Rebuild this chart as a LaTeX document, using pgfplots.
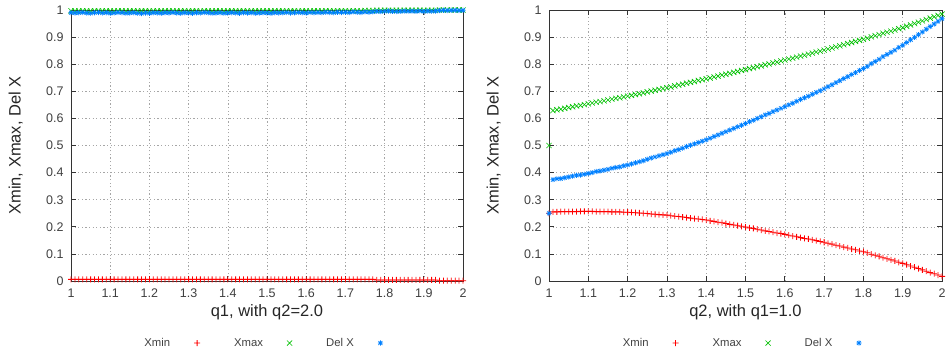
\documentclass[border=0pt]{standalone}
\usepackage{pgfplots}
\usepackage{pgfplotstable}
\pgfplotsset{compat=1.18}
\usepackage{fontspec}
\setmainfont{Liberation Sans}
\definecolor{gred}{RGB}{255,0,0}
\definecolor{ggreen}{RGB}{0,192,0}
\definecolor{gblue}{RGB}{0,128,255}
\definecolor{gtext}{RGB}{64,64,64}

\pgfdeclareplotmark{gplus}{%
  \pgfsetfillcolor{gred}%
  \pgfpathrectangle{\pgfqpoint{-\pgfplotmarksize}{-0.4pt}}{\pgfqpoint{2\pgfplotmarksize}{0.8pt}}%
  \pgfpathrectangle{\pgfqpoint{-0.4pt}{-\pgfplotmarksize}}{\pgfqpoint{0.8pt}{2\pgfplotmarksize}}%
  \pgfusepathqfill}
\pgfdeclareplotmark{gcross}{%
  \pgfsetstrokecolor{ggreen}%
  \pgfpathmoveto{\pgfqpoint{-\pgfplotmarksize}{-\pgfplotmarksize}}\pgfpathlineto{\pgfqpoint{\pgfplotmarksize}{\pgfplotmarksize}}%
  \pgfpathmoveto{\pgfqpoint{-\pgfplotmarksize}{\pgfplotmarksize}}\pgfpathlineto{\pgfqpoint{\pgfplotmarksize}{-\pgfplotmarksize}}%
  \pgfusepathqstroke}
\pgfdeclareplotmark{gstar}{%
  \pgfsetstrokecolor{gblue}%
  \pgfpathmoveto{\pgfqpoint{-\pgfplotmarksize}{0pt}}\pgfpathlineto{\pgfqpoint{\pgfplotmarksize}{0pt}}%
  \pgfpathmoveto{\pgfqpoint{0pt}{-\pgfplotmarksize}}\pgfpathlineto{\pgfqpoint{0pt}{\pgfplotmarksize}}%
  \pgfpathmoveto{\pgfqpoint{-0.75\pgfplotmarksize}{-0.75\pgfplotmarksize}}\pgfpathlineto{\pgfqpoint{0.75\pgfplotmarksize}{0.75\pgfplotmarksize}}%
  \pgfpathmoveto{\pgfqpoint{-0.75\pgfplotmarksize}{0.75\pgfplotmarksize}}\pgfpathlineto{\pgfqpoint{0.75\pgfplotmarksize}{-0.75\pgfplotmarksize}}%
  \pgfusepathqstroke}

\pgfplotstableread{
x xmin xmax delx
1.00 0.006 0.997 0.990
1.01 0.006 0.997 0.989
1.02 0.006 0.997 0.990
1.03 0.006 0.997 0.991
1.04 0.006 0.997 0.989
1.05 0.006 0.997 0.988
1.06 0.006 0.997 0.990
1.07 0.006 0.997 0.991
1.08 0.006 0.997 0.989
1.09 0.006 0.997 0.990
1.10 0.006 0.997 0.988
1.11 0.006 0.997 0.989
1.12 0.006 0.997 0.991
1.13 0.006 0.997 0.990
1.14 0.006 0.997 0.988
1.15 0.006 0.997 0.989
1.16 0.006 0.997 0.990
1.17 0.006 0.997 0.988
1.18 0.006 0.997 0.987
1.19 0.006 0.997 0.989
1.20 0.006 0.997 0.988
1.21 0.006 0.997 0.990
1.22 0.006 0.997 0.989
1.23 0.006 0.997 0.988
1.24 0.006 0.997 0.990
1.25 0.006 0.997 0.989
1.26 0.006 0.997 0.991
1.27 0.006 0.997 0.989
1.28 0.006 0.997 0.988
1.29 0.006 0.997 0.990
1.30 0.006 0.997 0.989
1.31 0.006 0.997 0.988
1.32 0.006 0.997 0.990
1.33 0.006 0.997 0.989
1.34 0.006 0.997 0.991
1.35 0.006 0.997 0.990
1.36 0.006 0.997 0.988
1.37 0.006 0.997 0.989
1.38 0.006 0.997 0.990
1.39 0.006 0.997 0.988
1.40 0.006 0.997 0.989
1.41 0.006 0.997 0.990
1.42 0.006 0.997 0.989
1.43 0.006 0.997 0.988
1.44 0.006 0.997 0.990
1.45 0.006 0.997 0.989
1.46 0.006 0.997 0.990
1.47 0.006 0.997 0.988
1.48 0.006 0.997 0.989
1.49 0.006 0.997 0.990
1.50 0.006 0.997 0.989
1.51 0.006 0.997 0.988
1.52 0.006 0.997 0.990
1.53 0.006 0.997 0.989
1.54 0.006 0.997 0.990
1.55 0.006 0.997 0.991
1.56 0.006 0.997 0.989
1.57 0.006 0.997 0.990
1.58 0.006 0.997 0.991
1.59 0.006 0.997 0.990
1.60 0.006 0.997 0.989
1.61 0.006 0.997 0.991
1.62 0.006 0.997 0.990
1.63 0.006 0.997 0.991
1.64 0.006 0.997 0.990
1.65 0.006 0.997 0.992
1.66 0.006 0.997 0.991
1.67 0.006 0.997 0.990
1.68 0.006 0.997 0.992
1.69 0.006 0.997 0.991
1.70 0.006 0.997 0.992
1.71 0.006 0.997 0.991
1.72 0.006 0.997 0.993
1.73 0.006 0.997 0.992
1.74 0.006 0.997 0.991
1.75 0.006 0.998 0.993
1.76 0.006 0.998 0.992
1.77 0.006 0.998 0.993
1.78 0.004 0.999 0.995
1.79 0.004 0.999 0.994
1.80 0.004 0.999 0.995
1.81 0.004 0.999 0.996
1.82 0.004 0.999 0.995
1.83 0.004 0.999 0.994
1.84 0.004 0.999 0.995
1.85 0.004 0.999 0.996
1.86 0.004 0.999 0.995
1.87 0.004 0.999 0.996
1.88 0.004 0.999 0.995
1.89 0.004 0.999 0.996
1.90 0.004 0.999 0.995
1.91 0.004 0.999 0.996
1.92 0.004 0.999 0.995
1.93 0.004 0.999 0.996
1.94 0.001 1.000 0.998
1.95 0.001 1.000 0.999
1.96 0.001 1.000 0.998
1.97 0.001 1.000 0.999
1.98 0.001 1.000 0.999
1.99 0.001 1.000 0.998
2.00 0.001 1.000 0.999
}\leftdata

\pgfplotstableread{
x xmin xmax delx
1.00 0.250 0.500 0.250
1.01 0.255 0.629 0.374
1.02 0.255 0.632 0.377
1.03 0.256 0.634 0.378
1.04 0.256 0.637 0.381
1.05 0.256 0.640 0.384
1.06 0.256 0.643 0.387
1.07 0.256 0.646 0.390
1.08 0.257 0.648 0.391
1.09 0.257 0.651 0.394
1.10 0.257 0.654 0.397
1.11 0.257 0.657 0.400
1.12 0.256 0.660 0.404
1.13 0.256 0.662 0.406
1.14 0.256 0.665 0.409
1.15 0.256 0.668 0.412
1.16 0.255 0.671 0.416
1.17 0.255 0.674 0.419
1.18 0.255 0.676 0.421
1.19 0.254 0.679 0.425
1.20 0.254 0.682 0.428
1.21 0.253 0.685 0.432
1.22 0.252 0.688 0.436
1.23 0.251 0.691 0.440
1.24 0.250 0.694 0.444
1.25 0.249 0.698 0.449
1.26 0.247 0.701 0.454
1.27 0.246 0.704 0.458
1.28 0.245 0.707 0.462
1.29 0.244 0.710 0.466
1.30 0.243 0.713 0.470
1.31 0.241 0.716 0.475
1.32 0.239 0.720 0.481
1.33 0.238 0.723 0.485
1.34 0.236 0.726 0.490
1.35 0.234 0.730 0.496
1.36 0.232 0.733 0.501
1.37 0.230 0.736 0.506
1.38 0.229 0.740 0.511
1.39 0.227 0.743 0.516
1.40 0.225 0.746 0.521
1.41 0.222 0.749 0.527
1.42 0.220 0.753 0.533
1.43 0.217 0.756 0.539
1.44 0.215 0.760 0.545
1.45 0.212 0.763 0.551
1.46 0.209 0.766 0.557
1.47 0.207 0.770 0.563
1.48 0.204 0.773 0.569
1.49 0.202 0.777 0.575
1.50 0.199 0.780 0.581
1.51 0.196 0.784 0.588
1.52 0.194 0.787 0.593
1.53 0.191 0.791 0.600
1.54 0.188 0.794 0.606
1.55 0.185 0.798 0.613
1.56 0.183 0.801 0.618
1.57 0.180 0.805 0.625
1.58 0.177 0.808 0.631
1.59 0.175 0.812 0.637
1.60 0.172 0.815 0.643
1.61 0.169 0.819 0.650
1.62 0.166 0.822 0.656
1.63 0.163 0.826 0.663
1.64 0.160 0.830 0.670
1.65 0.157 0.833 0.676
1.66 0.155 0.837 0.682
1.67 0.152 0.841 0.689
1.68 0.149 0.845 0.696
1.69 0.146 0.848 0.702
1.70 0.143 0.852 0.709
1.71 0.139 0.856 0.717
1.72 0.136 0.860 0.724
1.73 0.132 0.864 0.732
1.74 0.129 0.868 0.739
1.75 0.125 0.872 0.747
1.76 0.122 0.876 0.754
1.77 0.118 0.880 0.762
1.78 0.115 0.884 0.769
1.79 0.111 0.888 0.777
1.80 0.108 0.892 0.784
1.81 0.104 0.896 0.792
1.82 0.099 0.901 0.802
1.83 0.095 0.905 0.810
1.84 0.091 0.909 0.818
1.85 0.086 0.914 0.828
1.86 0.082 0.918 0.836
1.87 0.078 0.922 0.844
1.88 0.074 0.926 0.852
1.89 0.069 0.931 0.862
1.90 0.065 0.935 0.870
1.91 0.060 0.940 0.880
1.92 0.055 0.945 0.890
1.93 0.051 0.950 0.899
1.94 0.046 0.955 0.909
1.95 0.041 0.960 0.919
1.96 0.036 0.965 0.929
1.97 0.031 0.970 0.939
1.98 0.027 0.975 0.948
1.99 0.022 0.980 0.958
2.00 0.017 0.985 0.968
}\rightdata

\pgfplotsset{
  gnu/.style={
    scale only axis,
    width=392pt, height=271pt,
    anchor=south west,
    xmin=1, xmax=2, ymin=0, ymax=1,
    xtick={1,1.1,1.2,1.3,1.4,1.5,1.6,1.7,1.8,1.9,2},
    ytick={0,0.1,0.2,0.3,0.4,0.5,0.6,0.7,0.8,0.9,1},
    /pgf/number format/assume math mode=true,
    tick align=inside,
    major tick length=5pt,
    axis line style={draw=black!80, line width=0.8pt},
    every tick/.style={draw=black!80, line width=0.8pt},
    grid=major,
    major grid style={draw=black!35, line width=0.6pt, dash pattern=on 1.2pt off 2.4pt},
    tick label style={font=\fontsize{12.5}{14}\selectfont, text=gtext},
    yticklabel style={xshift=-4pt},
    xticklabel style={yshift=-4pt},
    label style={font=\fontsize{16.5}{19}\selectfont, text=black!85},
    y label style={at={(axis description cs:-0.141,0.5)}, anchor=center},
    x label style={at={(axis description cs:0.5,-0.114)}, anchor=center},
    ylabel={Xmin, Xmax, Del X},
    clip=false,
    legend plot pos=right,
    legend columns=3,
    legend style={draw=none, fill=none, at={(axis description cs:0.489,-0.229)}, anchor=center,
      font=\fontsize{11.3}{13}\selectfont, text=gtext,
      /tikz/every even column/.append style={column sep=32pt},
      /tikz/every odd column/.append style={column sep=22pt}},
  },
  pmin/.style={only marks, mark=gplus, mark size=3pt, mark options={solid}},
  pmax/.style={only marks, mark=gcross, mark size=2.6pt, mark options={solid, line width=0.6pt}},
  pdel/.style={only marks, mark=gstar, mark size=2.6pt, mark options={solid, line width=0.7pt}},
}

\begin{document}
\begin{tikzpicture}
\useasboundingbox (0,0) rectangle (947pt,354pt);
\begin{axis}[gnu, at={(71pt,73pt)}, xlabel={q1, with q2=2.0}]
\addplot[pmin] table[x=x, y=xmin] {\leftdata};
\addlegendentry{Xmin}
\addplot[pmax] table[x=x, y=xmax] {\leftdata};
\addlegendentry{Xmax}
\addplot[pdel] table[x=x, y=delx] {\leftdata};
\addlegendentry{Del X}
\end{axis}
\begin{axis}[gnu, at={(549pt,73pt)}, width=393pt, xlabel={q2, with q1=1.0}]
\addplot[pmin] table[x=x, y=xmin] {\rightdata};
\addlegendentry{Xmin}
\addplot[pmax] table[x=x, y=xmax] {\rightdata};
\addlegendentry{Xmax}
\addplot[pdel] table[x=x, y=delx] {\rightdata};
\addlegendentry{Del X}
\end{axis}
\end{tikzpicture}
\end{document}
